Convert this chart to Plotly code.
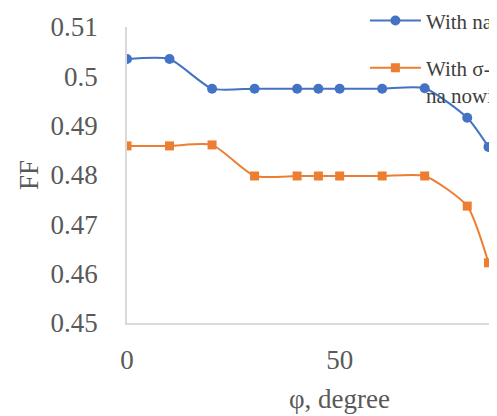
import plotly.graph_objects as go

phi = [0, 10, 20, 30, 40, 45, 50, 60, 70, 80, 85]
ff_nw = [0.5035, 0.5035, 0.4975, 0.4975, 0.4975, 0.4975, 0.4975, 0.4975, 0.4976, 0.4916, 0.4857]
ff_sigma = [0.4859, 0.4859, 0.4861, 0.4798, 0.4798, 0.4798, 0.4798, 0.4798, 0.4798, 0.4737, 0.4622]
name_nw = "With nanowires"
name_sigma = "With σ-shaped<br>na nowires"
y_ticks = [0.45, 0.46, 0.47, 0.48, 0.49, 0.50, 0.51]
y_ticktext = ["0.45", "0.46", "0.47", "0.48", "0.49", "0.5", "0.51"]
x_ticks = [0, 50, 100]
x_title = "φ, degree"
x_title_pos = 50

FONT = "Liberation Serif"
fig = go.Figure()
fig.add_trace(go.Scatter(x=phi, y=ff_nw, mode="lines+markers", name=name_nw,
                         line=dict(color="#4472C4", width=2, shape="spline", smoothing=0.6),
                         marker=dict(symbol="circle", size=10, color="#4472C4"),
                         legendgroup="a"))
fig.add_trace(go.Scatter(x=phi, y=ff_sigma, mode="lines+markers", name=name_sigma,
                         line=dict(color="#ED7D31", width=2, shape="spline", smoothing=0.6),
                         marker=dict(symbol="square", size=9, color="#ED7D31"),
                         legendgroup="b"))
fig.add_annotation(text=x_title, x=x_title_pos, xref="x", y=-0.257, yref="paper",
                   xanchor="center", yanchor="middle", showarrow=False,
                   font=dict(family=FONT, size=27, color="#595959"))
fig.update_layout(
    width=489, height=408,
    margin=dict(l=119, r=0, t=19, b=93, autoexpand=False),
    paper_bgcolor="white", plot_bgcolor="white",
    font=dict(family=FONT, size=27, color="#595959"),
    legend=dict(x=0.643, y=1.09, xanchor="left", yanchor="top",
                bgcolor="rgba(0,0,0,0)", traceorder="grouped", tracegroupgap=17,
                itemwidth=51, valign="top",
                font=dict(family=FONT, size=21, color="#404040")),
    xaxis=dict(range=[0, 87], tickvals=x_ticks, showgrid=False, zeroline=False,
               showline=True, linecolor="#d9d9d9", linewidth=1.5,
               ticks="", ticklabelstandoff=12),
    yaxis=dict(range=[0.45, 0.51], tickvals=y_ticks, ticktext=y_ticktext,
               showgrid=False, zeroline=False, showline=True, linecolor="#d9d9d9", linewidth=1.5,
               ticks="", ticklabelstandoff=22,
               title=dict(text="FF", standoff=4, font=dict(family=FONT, size=27, color="#595959"))),
)
fig.write_html("out.html")
